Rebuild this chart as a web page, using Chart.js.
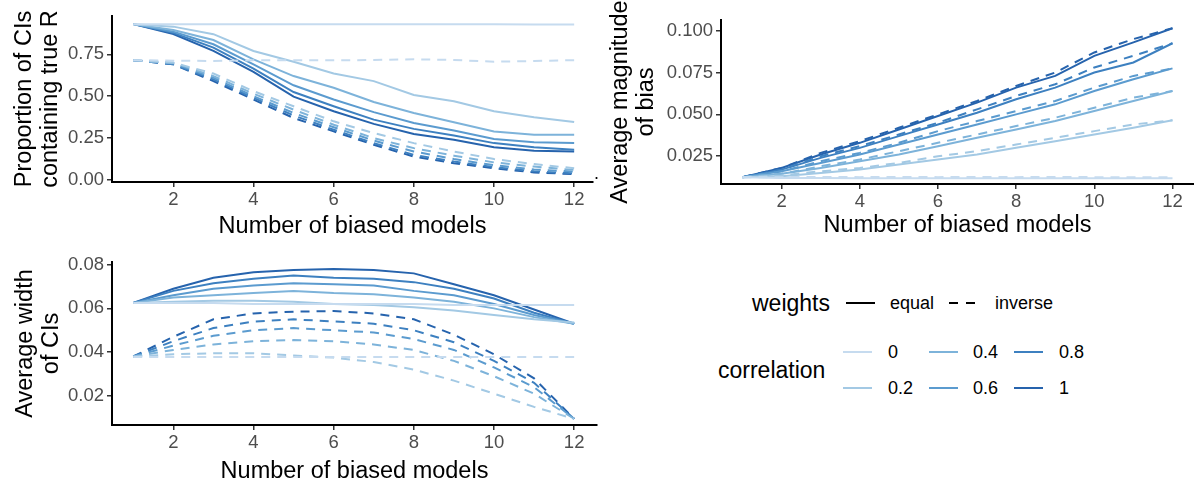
<!DOCTYPE html>
<html lang="en">
<head>
  <meta charset="UTF-8">
  <title>Biased models simulation</title>
  <script src="https://cdn.jsdelivr.net/npm/chart.js"></script>
  <style>
    body { margin: 0; background: #fff; font-family: "Liberation Sans", Arial, sans-serif; }
    .page { position: relative; width: 1194px; height: 488px; overflow: hidden; }
    .page canvas { position: absolute; }
    .lg { position: absolute; transform: translateY(-50%); white-space: nowrap; color: #000; }
    .lg-title { font-size: 23px; }
    .lg-label { font-size: 18px; }
    .dot { position: absolute; left: 594px; top: 163px; font-size: 18px; color: #000; }
  </style>
</head>
<body>
  <div class="page">
    <canvas id="coverage" width="600" height="240" style="left:0;top:0"></canvas>
    <canvas id="bias" width="594" height="250" style="left:600px;top:0"></canvas>
    <canvas id="width" width="600" height="243" style="left:0;top:245px"></canvas>
    <span class="dot">.</span>
    <div id="legend"></div>
  </div>

  <script>
    const models = [1, 2, 3, 4, 5, 6, 7, 8, 9, 10, 11, 12];
    const correlations = ['0', '0.2', '0.4', '0.6', '0.8', '1'];
    const colours = ['#c6dbef', '#a3c9e4', '#7db3da', '#5b9bcf', '#3d80c0', '#2663ad'];

    const xTicks = [2, 4, 6, 8, 10, 12];
    const coverageTicks = [0, 0.25, 0.5, 0.75];
    const biasTicks = [0.025, 0.05, 0.075, 0.1];
    const widthTicks = [0.02, 0.04, 0.06, 0.08];

    // proportion of CIs containing true R, one row per correlation
    const coverageEqual = [
      [0.93, 0.93, 0.93, 0.93, 0.929, 0.929, 0.929, 0.93, 0.93, 0.929, 0.928, 0.928],
      [0.93, 0.915, 0.87, 0.77, 0.705, 0.635, 0.59, 0.507, 0.47, 0.41, 0.375, 0.346],
      [0.93, 0.895, 0.835, 0.72, 0.62, 0.55, 0.465, 0.40, 0.345, 0.29, 0.27, 0.27],
      [0.93, 0.885, 0.81, 0.69, 0.565, 0.48, 0.405, 0.34, 0.295, 0.245, 0.225, 0.22],
      [0.93, 0.878, 0.79, 0.665, 0.525, 0.44, 0.36, 0.305, 0.265, 0.22, 0.195, 0.18],
      [0.93, 0.871, 0.77, 0.645, 0.497, 0.41, 0.335, 0.275, 0.24, 0.195, 0.175, 0.17]
    ];
    const coverageInverse = [
      [0.715, 0.712, 0.71, 0.714, 0.715, 0.714, 0.716, 0.72, 0.716, 0.706, 0.71, 0.715],
      [0.715, 0.70, 0.635, 0.53, 0.44, 0.35, 0.28, 0.22, 0.17, 0.125, 0.095, 0.07],
      [0.715, 0.70, 0.62, 0.515, 0.42, 0.33, 0.25, 0.19, 0.145, 0.105, 0.08, 0.06],
      [0.715, 0.695, 0.61, 0.50, 0.40, 0.315, 0.235, 0.17, 0.125, 0.088, 0.063, 0.05],
      [0.715, 0.69, 0.60, 0.49, 0.385, 0.30, 0.22, 0.15, 0.11, 0.077, 0.052, 0.04],
      [0.715, 0.69, 0.59, 0.48, 0.37, 0.29, 0.21, 0.14, 0.10, 0.07, 0.045, 0.035]
    ];

    // average magnitude of bias
    const biasEqual = [
      [0.0125, 0.012, 0.012, 0.0118, 0.0118, 0.0118, 0.0118, 0.0118, 0.0118, 0.0118, 0.0118, 0.0118],
      [0.0125, 0.013, 0.015, 0.017, 0.020, 0.023, 0.026, 0.030, 0.034, 0.038, 0.042, 0.0465],
      [0.0125, 0.0145, 0.018, 0.022, 0.026, 0.031, 0.036, 0.041, 0.046, 0.052, 0.058, 0.064],
      [0.0125, 0.016, 0.021, 0.026, 0.032, 0.038, 0.044, 0.050, 0.056, 0.064, 0.071, 0.0775],
      [0.0125, 0.017, 0.024, 0.030, 0.037, 0.044, 0.051, 0.059, 0.066, 0.075, 0.081, 0.0925],
      [0.0125, 0.018, 0.026, 0.033, 0.041, 0.049, 0.057, 0.066, 0.073, 0.085, 0.093, 0.1015]
    ];
    const biasInverse = [
      [0.0125, 0.0125, 0.0126, 0.0125, 0.0126, 0.0125, 0.0126, 0.0125, 0.0126, 0.0125, 0.0125, 0.0125],
      [0.0125, 0.0135, 0.016, 0.018, 0.021, 0.025, 0.028, 0.032, 0.036, 0.040, 0.044, 0.0465],
      [0.0125, 0.0145, 0.019, 0.023, 0.028, 0.033, 0.038, 0.043, 0.048, 0.054, 0.060, 0.064],
      [0.0125, 0.016, 0.022, 0.027, 0.033, 0.040, 0.046, 0.052, 0.058, 0.066, 0.073, 0.0775],
      [0.0125, 0.017, 0.025, 0.031, 0.038, 0.045, 0.053, 0.061, 0.068, 0.078, 0.085, 0.0925],
      [0.0125, 0.018, 0.027, 0.034, 0.042, 0.050, 0.058, 0.067, 0.075, 0.087, 0.095, 0.1015]
    ];

    // average width of CIs
    const widthEqual = [
      [0.0625, 0.0625, 0.0625, 0.062, 0.062, 0.062, 0.062, 0.062, 0.0615, 0.0615, 0.0615, 0.0615],
      [0.0625, 0.063, 0.0635, 0.0635, 0.063, 0.062, 0.0615, 0.0605, 0.059, 0.057, 0.055, 0.0535],
      [0.0625, 0.065, 0.066, 0.067, 0.068, 0.067, 0.0665, 0.065, 0.063, 0.060, 0.056, 0.053],
      [0.0625, 0.066, 0.069, 0.0705, 0.0715, 0.071, 0.0705, 0.068, 0.066, 0.062, 0.057, 0.053],
      [0.0625, 0.068, 0.0715, 0.0735, 0.075, 0.074, 0.0735, 0.072, 0.069, 0.0645, 0.058, 0.053],
      [0.0625, 0.069, 0.074, 0.0765, 0.0775, 0.078, 0.0775, 0.076, 0.071, 0.066, 0.0595, 0.053]
    ];
    const widthInverse = [
      [0.0378, 0.0378, 0.0378, 0.0378, 0.0378, 0.0378, 0.0378, 0.0378, 0.0378, 0.0378, 0.0378, 0.0378],
      [0.038, 0.039, 0.0395, 0.0395, 0.0385, 0.0375, 0.0355, 0.032, 0.027, 0.021, 0.015, 0.0095],
      [0.038, 0.041, 0.0435, 0.045, 0.0455, 0.045, 0.0435, 0.041, 0.036, 0.029, 0.021, 0.0095],
      [0.038, 0.043, 0.0475, 0.050, 0.051, 0.050, 0.049, 0.046, 0.041, 0.033, 0.024, 0.0095],
      [0.038, 0.045, 0.051, 0.054, 0.055, 0.054, 0.053, 0.050, 0.0445, 0.036, 0.026, 0.0095],
      [0.038, 0.047, 0.055, 0.0577, 0.0585, 0.0588, 0.0577, 0.055, 0.048, 0.039, 0.028, 0.0095]
    ];

    const FONT = '"Liberation Sans", Arial, sans-serif';

    function buildDatasets(equal, inverse) {
      const sets = [];
      correlations.forEach((c, i) => {
        sets.push({
          label: 'equal ' + c,
          data: models.map((m, j) => ({ x: m, y: equal[i][j] })),
          borderColor: colours[i],
          borderWidth: 2,
          pointRadius: 0,
          tension: 0
        });
        sets.push({
          label: 'inverse ' + c,
          data: models.map((m, j) => ({ x: m, y: inverse[i][j] })),
          borderColor: colours[i],
          borderWidth: 2,
          borderDash: [9, 7],
          pointRadius: 0,
          tension: 0
        });
      });
      return sets;
    }

    function makePanel(id, cfg) {
      new Chart(document.getElementById(id), {
        type: 'line',
        data: { datasets: buildDatasets(cfg.equal, cfg.inverse) },
        options: {
          responsive: false,
          animation: false,
          layout: { padding: { top: cfg.padTop, right: cfg.padRight, left: 0, bottom: 0 } },
          plugins: { legend: { display: false }, tooltip: { enabled: false } },
          scales: {
            x: {
              type: 'linear',
              min: cfg.xMin,
              max: cfg.xMax,
              afterBuildTicks: s => { s.ticks = xTicks.map(v => ({ value: v })); },
              afterFit: s => { s.height = cfg.xHeight; },
              ticks: { color: '#4d4d4d', font: { family: FONT, size: 18.5 }, padding: 2, callback: v => String(v) },
              grid: { drawOnChartArea: false, tickLength: 5, color: '#333', lineWidth: 1.5 },
              border: { color: '#000', width: 2 },
              title: {
                display: true,
                text: 'Number of biased models',
                color: '#000',
                font: { family: FONT, size: 23.5, lineHeight: 1.1 },
                padding: { top: 0, bottom: cfg.xTitlePad }
              }
            },
            y: {
              min: cfg.yMin,
              max: cfg.yMax,
              afterBuildTicks: s => { s.ticks = cfg.yTicks.map(v => ({ value: v })); },
              afterFit: s => { s.width = cfg.yWidth; },
              ticks: { color: '#4d4d4d', font: { family: FONT, size: 18.5 }, padding: 3, callback: v => v.toFixed(cfg.digits) },
              grid: { drawOnChartArea: false, tickLength: 5, color: '#333', lineWidth: 1.5 },
              border: { color: '#000', width: 2 },
              title: {
                display: true,
                text: cfg.yTitle,
                color: '#000',
                font: { family: FONT, size: 23.5, lineHeight: 1.08 },
                padding: { top: cfg.yTitlePad, bottom: 0 }
              }
            }
          }
        }
      });
    }

    makePanel('coverage', {
      equal: coverageEqual, inverse: coverageInverse,
      xMin: 0.47, xMax: 12.47, yMin: -0.012, yMax: 0.9785,
      yTicks: coverageTicks, digits: 2,
      yTitle: ['Proportion of CIs', 'containing true R'],
      padTop: 16, padRight: 7, xHeight: 58, yWidth: 112, xTitlePad: 1, yTitlePad: 12
    });

    makePanel('bias', {
      equal: biasEqual, inverse: biasInverse,
      xMin: 0.45, xMax: 12.55, yMin: 0.0084, yMax: 0.1064,
      yTicks: biasTicks, digits: 3,
      yTitle: ['Average magnitude', 'of bias'],
      padTop: 20, padRight: 0, xHeight: 66, yWidth: 121, xTitlePad: 12, yTitlePad: 8
    });

    makePanel('width', {
      equal: widthEqual, inverse: widthInverse,
      xMin: 0.47, xMax: 12.57, yMin: 0.0067, yMax: 0.0812,
      yTicks: widthTicks, digits: 2,
      yTitle: ['Average width', 'of CIs'],
      padTop: 17, padRight: 3, xHeight: 63, yWidth: 112, xTitlePad: 4, yTitlePad: 13
    });

    // legend for weights (line type) and correlation (colour)
    const legend = document.getElementById('legend');
    function addText(text, x, y, cls) {
      const el = document.createElement('div');
      el.className = 'lg ' + cls;
      el.style.left = x + 'px';
      el.style.top = y + 'px';
      el.textContent = text;
      legend.appendChild(el);
    }
    function addKey(x, y, colour, dashed) {
      const ns = 'http://www.w3.org/2000/svg';
      const svg = document.createElementNS(ns, 'svg');
      svg.setAttribute('width', 30);
      svg.setAttribute('height', 6);
      svg.style.position = 'absolute';
      svg.style.left = x + 'px';
      svg.style.top = (y - 3) + 'px';
      const line = document.createElementNS(ns, 'line');
      line.setAttribute('x1', 0); line.setAttribute('x2', dashed ? 26 : 29);
      line.setAttribute('y1', 3); line.setAttribute('y2', 3);
      line.setAttribute('stroke', colour);
      line.setAttribute('stroke-width', 2);
      if (dashed) line.setAttribute('stroke-dasharray', '9 8');
      svg.appendChild(line);
      legend.appendChild(svg);
    }

    addText('weights', 752, 303, 'lg-title');
    addKey(846, 303, '#000', false);
    addText('equal', 890, 303, 'lg-label');
    addKey(949, 303, '#000', true);
    addText('inverse', 995, 303, 'lg-label');

    addText('correlation', 718, 370, 'lg-title');
    const keyCols = [843, 929, 1014];
    const labelCols = [888, 973, 1059];
    const keyRows = [352, 388];
    correlations.forEach((c, i) => {
      const col = Math.floor(i / 2);
      const row = i % 2;
      addKey(keyCols[col], keyRows[row], colours[i], false);
      addText(c, labelCols[col], keyRows[row], 'lg-label');
    });
  </script>
</body>
</html>
